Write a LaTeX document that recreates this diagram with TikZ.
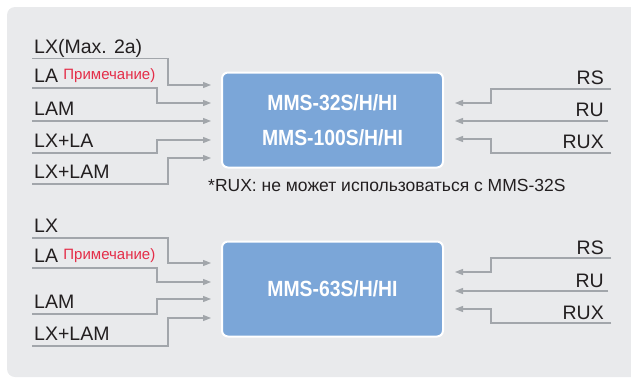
\documentclass[tikz,border=0pt]{standalone}
\usepackage{fontspec}
\setmainfont{Liberation Sans}
\newfontfamily\boxfont{Liberation Sans}[FakeStretch=0.88]
\definecolor{panel}{RGB}{233,234,236}
\definecolor{boxblue}{RGB}{123,166,216}
\definecolor{wiregray}{RGB}{162,166,171}
\definecolor{note}{RGB}{228,45,72}
\definecolor{ink}{RGB}{35,31,32}
\usetikzlibrary{arrows.meta,positioning}

\begin{document}
\begin{tikzpicture}[x=1pt,y=-1pt,
    wire/.style={wiregray,line width=1.2pt,-{Triangle[length=8pt,width=6pt]}},
    lbl/.style={inner sep=0pt,anchor=base west,text=ink,font=\fontsize{19.5}{22}\selectfont},
    rlbl/.style={lbl,anchor=base east},
    notelbl/.style={inner sep=0pt,anchor=base west,text=note,font=\fontsize{15}{18}\selectfont},
    unit/.style={fill=boxblue,draw=white,line width=2pt,rounded corners=6pt,
      minimum width=221pt,minimum height=95pt,text=white,align=center,
      font=\boxfont\bfseries\fontsize{22}{35}\selectfont}]
  \useasboundingbox (0,0) rectangle (631,378);
  \begin{scope}
    \clip (0,0) rectangle (631,378);
    \fill[panel,rounded corners=8pt] (7,7) rectangle (650,377);
  \end{scope}

  % units
  \node[unit] (top) at (332.5,120) {MMS-32S/H/HI\\MMS-100S/H/HI};
  \node[unit] (bot) at (332.5,289) {MMS-63S/H/HI};

  % upper unit, inputs
  \foreach \txt/\ly/\bx/\ay [count=\i] in {LX(Max. 2a)/58.5/168/85,LA/88/157/103,
      LAM/121/100/121,LX+LA/153/157/140,LX+LAM/184/168/158}{
    \coordinate (la\i) at (32,\ly);
    \node[lbl] (lA\i) at (34,\ly-5.5) {\txt};
    \draw[wire,shorten >=10pt] (la\i) -- (\bx,\ly) |- (top.west |- 0,\ay);
  }
  \node[notelbl] (noteA) at ([xshift=5pt,yshift=3pt]lA2.base east) {Примечание)};

  \foreach \txt/\ly/\sx/\ay [count=\i] in {RS/89/611/103,RU/121/608/121,RUX/153/611/139}{
    \coordinate (ra\i) at (\sx,\ly);
    \node[rlbl] (rA\i) at (604,\ly-5) {\txt};
    \draw[wire,shorten >=11pt] (ra\i) -- (491,\ly) |- (top.east |- 0,\ay);
  }

  \node[inner sep=0pt,anchor=base west,text=ink,font=\fontsize{17.5}{20}\selectfont]
    (foot) at (208,191) {*RUX: не может использоваться с MMS-32S};

  % lower unit, inputs
  \foreach \txt/\ly/\bx/\ay [count=\i] in {LX/238/168/263,LA/268/157/282,
      LAM/314/157/299,LX+LAM/346/168/318}{
    \coordinate (lb\i) at (32,\ly);
    \node[lbl] (lB\i) at (34,\ly-5.5) {\txt};
    \draw[wire,shorten >=10pt] (lb\i) -- (\bx,\ly) |- (bot.west |- 0,\ay);
  }
  \node[notelbl] (noteB) at ([xshift=5pt,yshift=3pt]lB2.base east) {Примечание)};

  \foreach \txt/\ly/\sx/\ay [count=\i] in {RS/258/611/272,RU/291/608/291,RUX/323/611/309}{
    \coordinate (rb\i) at (\sx,\ly);
    \node[rlbl] (rB\i) at (604,\ly-4) {\txt};
    \draw[wire,shorten >=11pt] (rb\i) -- (491,\ly) |- (bot.east |- 0,\ay);
  }
\end{tikzpicture}
\end{document}
